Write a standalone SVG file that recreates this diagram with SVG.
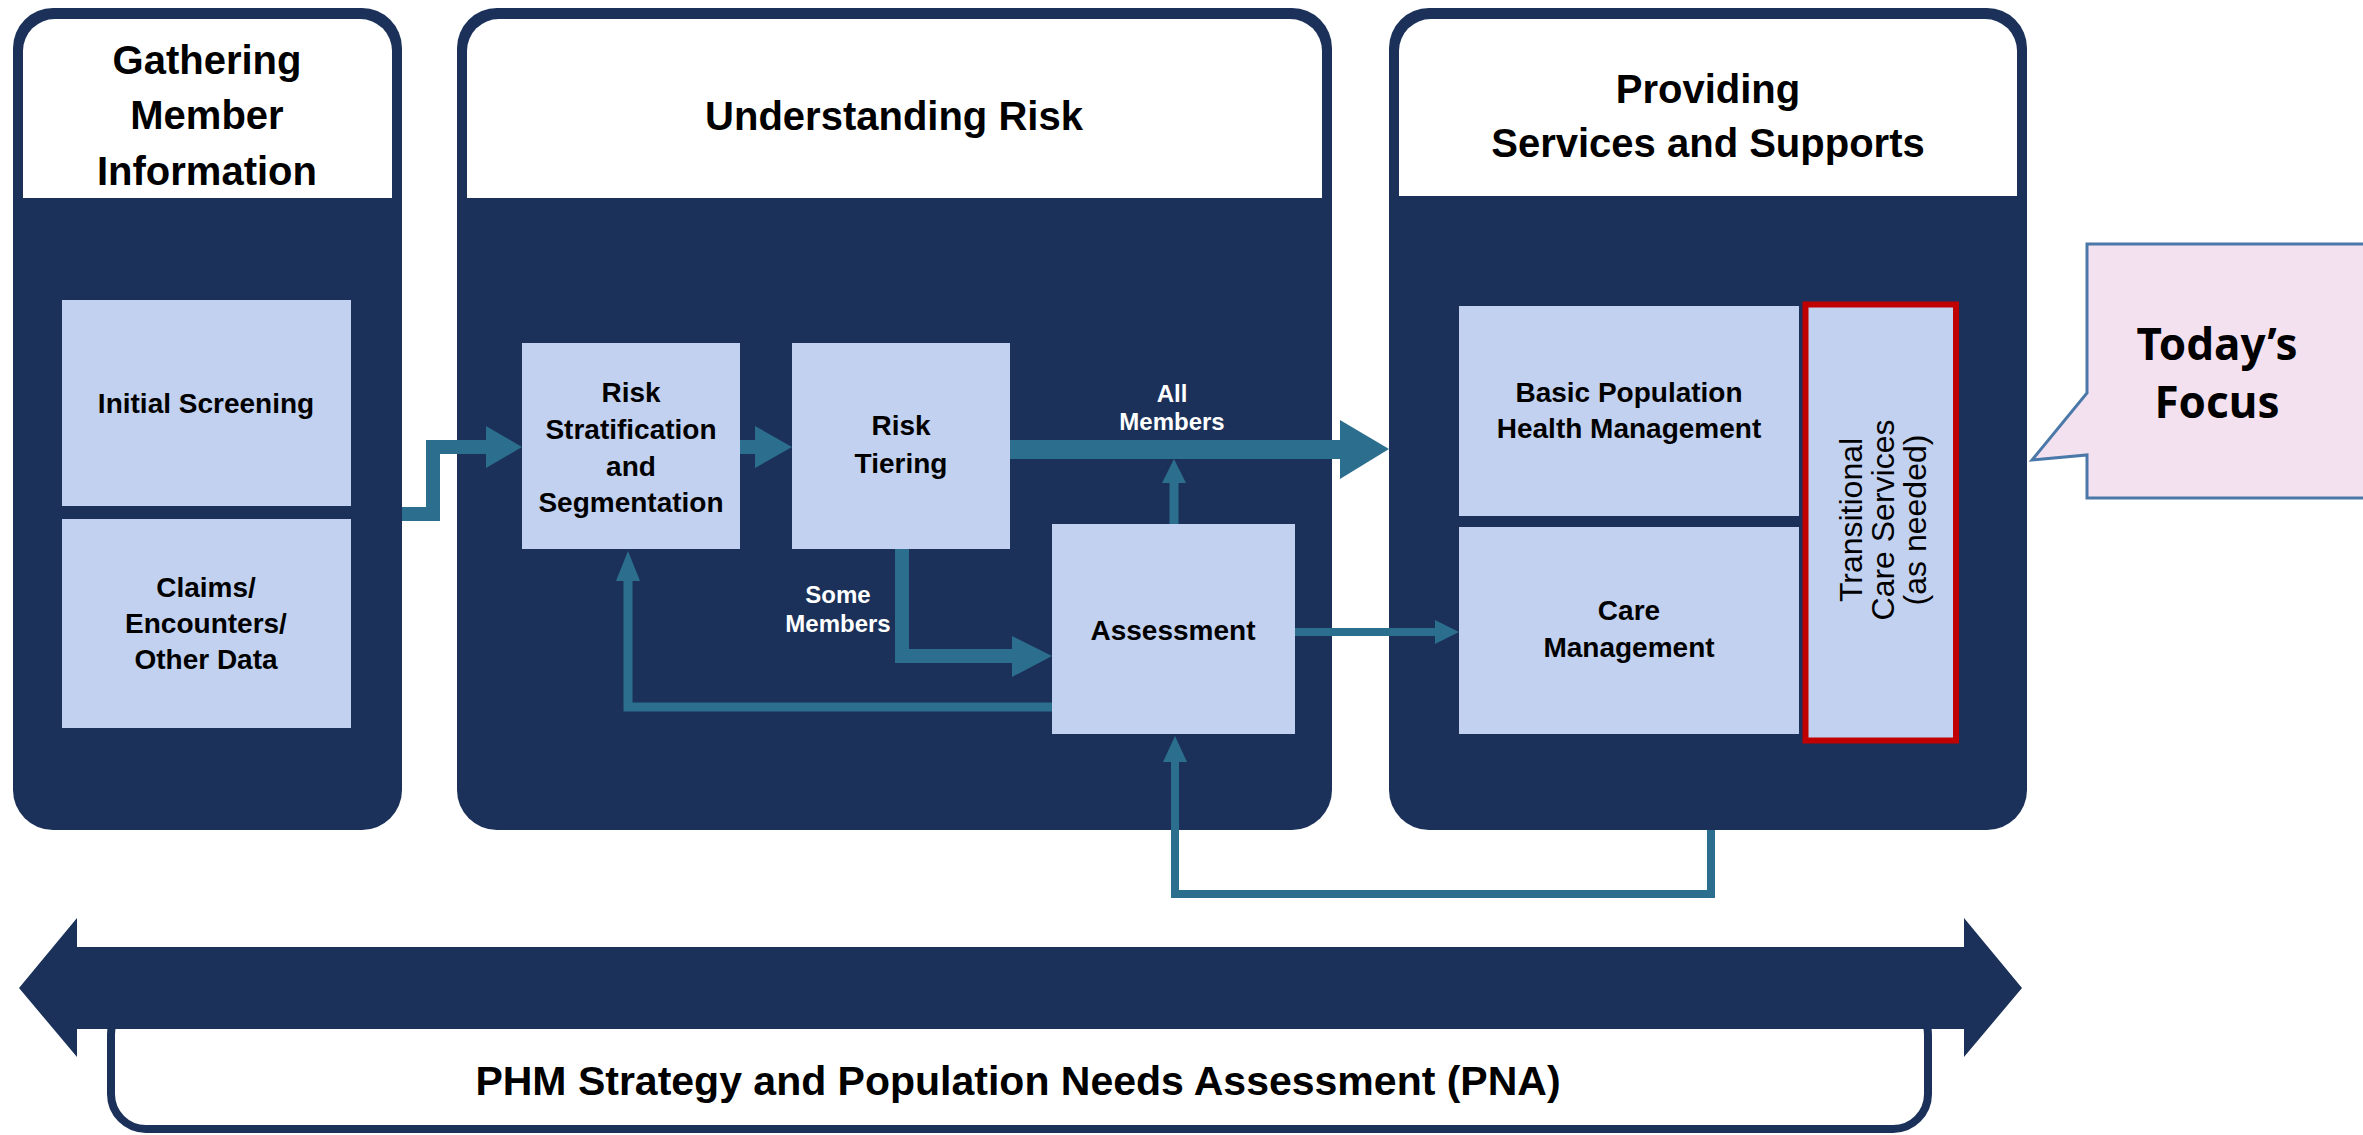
<svg xmlns="http://www.w3.org/2000/svg" width="2363" height="1135" viewBox="0 0 2363 1135">
<defs>
<style>
.panel{fill:#1b3159}
.hdr{fill:#ffffff}
.box{fill:#c1d1ef}
.t{font-family:"Liberation Sans",Arial,sans-serif;font-weight:bold;fill:#000;text-anchor:middle}
.h{font-size:40px}
.b{font-size:28px}
.w{font-family:"Liberation Sans",Arial,sans-serif;font-weight:bold;fill:#fff;text-anchor:middle;font-size:24px}
.v{font-family:"Liberation Sans",Arial,sans-serif;font-weight:normal;fill:#000;text-anchor:middle;font-size:32px}
.ln{fill:none;stroke:#2c6e8e;stroke-linejoin:miter}
.hd{fill:#2c6e8e}
</style>
</defs>
<rect width="2363" height="1135" fill="#ffffff"/>

<g id="panel-gathering">
<rect class="panel" x="13" y="8" width="389" height="822" rx="40"/>
<path class="hdr" d="M23 198 V51 A32 32 0 0 1 55 19 H360 A32 32 0 0 1 392 51 V198 Z"/>
<text class="t h" x="207" y="74">Gathering</text>
<text class="t h" x="207" y="129">Member</text>
<text class="t h" x="207" y="185">Information</text>
</g>
<g id="node-initial-screening">
<rect class="box" x="62" y="300" width="289" height="206"/>
<text class="t b" x="206" y="413">Initial Screening</text>
</g>
<g id="node-claims">
<rect class="box" x="62" y="519" width="289" height="209"/>
<text class="t b" x="206" y="597">Claims/</text>
<text class="t b" x="206" y="633">Encounters/</text>
<text class="t b" x="206" y="669">Other Data</text>
</g>

<g id="panel-understanding">
<rect class="panel" x="457" y="8" width="875" height="822" rx="40"/>
<path class="hdr" d="M467 198 V51 A32 32 0 0 1 499 19 H1290 A32 32 0 0 1 1322 51 V198 Z"/>
<text class="t h" x="894" y="130">Understanding Risk</text>
</g>
<g id="node-risk-strat">
<rect class="box" x="522" y="343" width="218" height="206"/>
<text class="t b" x="631" y="402">Risk</text>
<text class="t b" x="631" y="439">Stratification</text>
<text class="t b" x="631" y="476">and</text>
<text class="t b" x="631" y="512">Segmentation</text>
</g>
<g id="node-risk-tiering">
<rect class="box" x="792" y="343" width="218" height="206"/>
<text class="t b" x="901" y="435">Risk</text>
<text class="t b" x="901" y="473">Tiering</text>
</g>
<g id="node-assessment">
<rect class="box" x="1052" y="524" width="243" height="210"/>
<text class="t b" x="1173" y="640">Assessment</text>
</g>

<g id="panel-providing">
<rect class="panel" x="1389" y="8" width="638" height="822" rx="40"/>
<path class="hdr" d="M1399 196 V51 A32 32 0 0 1 1431 19 H1985 A32 32 0 0 1 2017 51 V196 Z"/>
<text class="t h" x="1708" y="103">Providing</text>
<text class="t h" x="1708" y="157">Services and Supports</text>
</g>
<g id="node-basic-phm">
<rect class="box" x="1459" y="306" width="340" height="210"/>
<text class="t b" x="1629" y="402">Basic Population</text>
<text class="t b" x="1629" y="438">Health Management</text>
</g>
<g id="node-care-mgmt">
<rect class="box" x="1459" y="527" width="340" height="207"/>
<text class="t b" x="1629" y="620">Care</text>
<text class="t b" x="1629" y="657">Management</text>
</g>
<g id="node-transitional">
<rect class="box" x="1804" y="304" width="153" height="436"/>
<rect x="1805.5" y="304.5" width="150.5" height="436" fill="none" stroke="#c00000" stroke-width="6"/>
<text class="v" transform="translate(1862,520) rotate(-90)"><tspan x="0" y="0">Transitional</tspan><tspan x="0" y="32">Care Services</tspan><tspan x="0" y="64">(as needed)</tspan></text>
</g>

<g id="connectors">
<path class="ln" stroke-width="14" d="M402 514 H433 V447 H490"/>
<polygon class="hd" points="486,426 522,447 486,468"/>
<path class="ln" stroke-width="14" d="M740 447 H758"/>
<polygon class="hd" points="755,426 792,447 755,468"/>
<path class="ln" stroke-width="19" d="M1010 449.5 H1344"/>
<polygon class="hd" points="1340,420 1389,449 1340,479"/>
<path class="ln" stroke-width="9" d="M1174 524 V480"/>
<polygon class="hd" points="1162,483 1174,459 1186,483"/>
<path class="ln" stroke-width="14" d="M902 549 V656 H1016"/>
<polygon class="hd" points="1012,636 1052,656 1012,677"/>
<path class="ln" stroke-width="9" d="M1052 707 H628 V578"/>
<polygon class="hd" points="616,581 628,551 640,581"/>
<path class="ln" stroke-width="8" d="M1295 632 H1438"/>
<polygon class="hd" points="1435,620 1459,632 1435,644"/>
<path class="ln" stroke-width="8" d="M1711 830 V894 H1175 V760"/>
<polygon class="hd" points="1163,762 1175,736 1187,762"/>
<text class="w" x="1172" y="402">All</text>
<text class="w" x="1172" y="430">Members</text>
<text class="w" x="838" y="603">Some</text>
<text class="w" x="838" y="632">Members</text>
</g>

<g id="node-phm">
<rect x="111" y="1000" width="1817" height="129" rx="35" fill="#ffffff" stroke="#1b3159" stroke-width="8"/>
<polygon class="panel" points="19,988 77,918 77,947 1964,947 1964,918 2022,988 1964,1057 1964,1029 77,1029 77,1057"/>
<text class="t" style="font-size:41px" x="1018" y="1095">PHM Strategy and Population Needs Assessment (PNA)</text>
</g>

<g id="node-callout">
<path d="M2087 244 H2370 V498 H2087 V455 L2032 460 L2087 393 Z" fill="#f4e1f0" stroke="#4a78a8" stroke-width="3"/>
<text style="font-family:'Noto Sans','Open Sans',sans-serif;font-weight:bold;font-size:44px;text-anchor:middle" x="2217" y="360">Today’s</text>
<text style="font-family:'Noto Sans','Open Sans',sans-serif;font-weight:bold;font-size:44px;text-anchor:middle" x="2217" y="418">Focus</text>
</g>
</svg>
